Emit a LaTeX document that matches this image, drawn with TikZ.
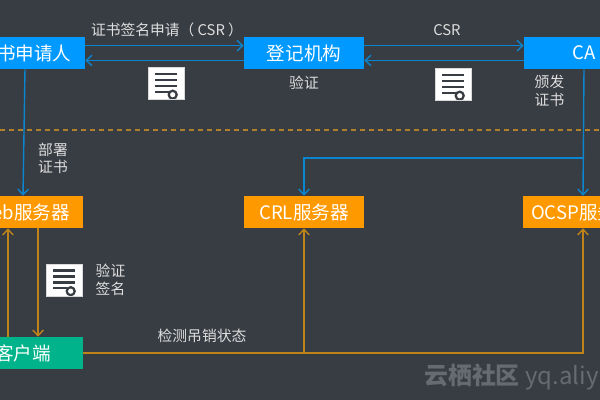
\documentclass[tikz,border=0pt]{standalone}
\usepackage{fontspec}
\setmainfont{Noto Sans CJK SC}
\usetikzlibrary{arrows.meta}
\definecolor{bgdark}{HTML}{383C43}
\definecolor{boxblue}{HTML}{0099FF}
\definecolor{boxorange}{HTML}{FF9900}
\definecolor{boxgreen}{HTML}{00B38A}
\definecolor{lineblue}{HTML}{0B85CF}
\definecolor{lineorange}{HTML}{BE8419}
\definecolor{dashorange}{HTML}{B0802A}
\definecolor{labelgrey}{HTML}{DEDEDE}
\definecolor{markgrey}{HTML}{666B71}

\begin{document}
\begin{tikzpicture}[
    x=0.025cm, y=-0.025cm,
    box/.style={minimum width=3cm, minimum height=0.8cm, inner sep=0pt, text=white, font=\fontsize{13.2}{16}\selectfont},
    bluebox/.style={box, fill=boxblue},
    orangebox/.style={box, fill=boxorange},
    greenbox/.style={box, fill=boxgreen},
    tag/.style={text=labelgrey, align=center, inner sep=0pt, font=\fontsize{10.5}{12.4}\selectfont},
    blueline/.style={draw=lineblue, line width=1pt, -{Straight Barb[length=4pt, width=7.5pt]}},
    orangeline/.style={draw=lineorange, line width=1pt, -{Straight Barb[length=4pt, width=7.5pt]}},
    certicon/.style={fill=white, draw=black!15, line width=0.3pt, minimum width=0.9cm, minimum height=0.79cm, inner sep=0pt,
        path picture={
            \foreach \d in {-9.5,-3.5,2.5}
                \draw[bgdark, line width=1.5pt] (-11,\d) -- (11,\d);
            \draw[bgdark, line width=1.5pt] (-11,8.2) -- (3,8.2);
            \fill[bgdark] (6.7,11.2) circle (5.2);
            \fill[white] (6.7,11.2) circle (2.6);
        }},
]

% --- Background ---
\useasboundingbox (0,0) rectangle (600,400);
\fill[bgdark] (0,0) rectangle (600,400);

% --- Upper row (blue boxes) ---
\node[bluebox] (applicant) at (25,53) {证书申请人};
\node[bluebox] (registry) at (304,53) {登记机构};
\node[bluebox] (ca) at (584,53) {CA};

% --- Server row (orange boxes) ---
\node[orangebox] (web) at (23,212) {Web服务器};
\node[orangebox] (crl) at (304,212) {CRL服务器};
\node[orangebox] (ocsp) at (583,212) {OCSP服务器};

% --- Client ---
\node[greenbox] (client) at (23,353) {客户端};

% --- Dashed separator ---
\coordinate (sepleft) at (0,130);
\coordinate (sepright) at (600,130);
\draw[dashorange, line width=1.2pt, dash pattern=on 3.6pt off 2.8pt] (sepleft) -- (sepright);

% --- Requests and replies along the upper row ---
\draw[blueline] ([yshift=5.2pt]applicant.east) -- ([yshift=5.2pt]registry.west);
\draw[blueline] ([yshift=-5.3pt]registry.west) -- ([yshift=-5.3pt]applicant.east);
\draw[blueline] ([yshift=5.2pt]registry.east) -- ([yshift=5.2pt]ca.west);
\draw[blueline] ([yshift=-5.3pt]ca.west) -- ([yshift=-5.3pt]registry.east);

% --- Blue lines going down ---
\draw[blueline] (applicant.south) -- (web.north);
\draw[blueline] (ca.south) -- (ocsp.north);
\coordinate (branch) at (584,158);
\draw[blueline] (branch) -| (crl.north);

% --- Web server and client ---
\draw[orangeline] ([xshift=-10.7pt]client.north) -- ([xshift=-10.7pt]web.south);
\draw[orangeline] ([xshift=10.7pt]web.south) -- ([xshift=10.7pt]client.north);

% --- Client to CRL and OCSP ---
\draw[orangeline] (client.east) -| (ocsp.south);
\draw[orangeline] (client.east) -| (crl.south);

% --- Certificate icons ---
\node[certicon] (cert1) at (166,83.5) {};
\node[certicon] (cert2) at (453,84.5) {};
\node[certicon] (cert3) at (64,280) {};

% --- Labels ---
\node[tag] (csrlong) at (167,30) {证书签名申请（ CSR ）};
\node[tag] (csrshort) at (447,30) {CSR};
\node[tag] (verify) at (304,83) {验证};
\node[tag] (issue) at (549.5,91) {颁发\\证书};
\node[tag] (deploy) at (53,158.5) {部署\\证书};
\node[tag] (checksig) at (110.5,280) {验证\\签名};
\node[tag] (revoke) at (202,336) {检测吊销状态};

% --- Site mark ---
\node[anchor=west, inner sep=0pt, text=markgrey, font=\fontsize{17}{20}\selectfont] (mark) at (424,377) {\bfseries 云栖社区 \mdseries yq.aliyun.com};

\end{tikzpicture}
\end{document}
